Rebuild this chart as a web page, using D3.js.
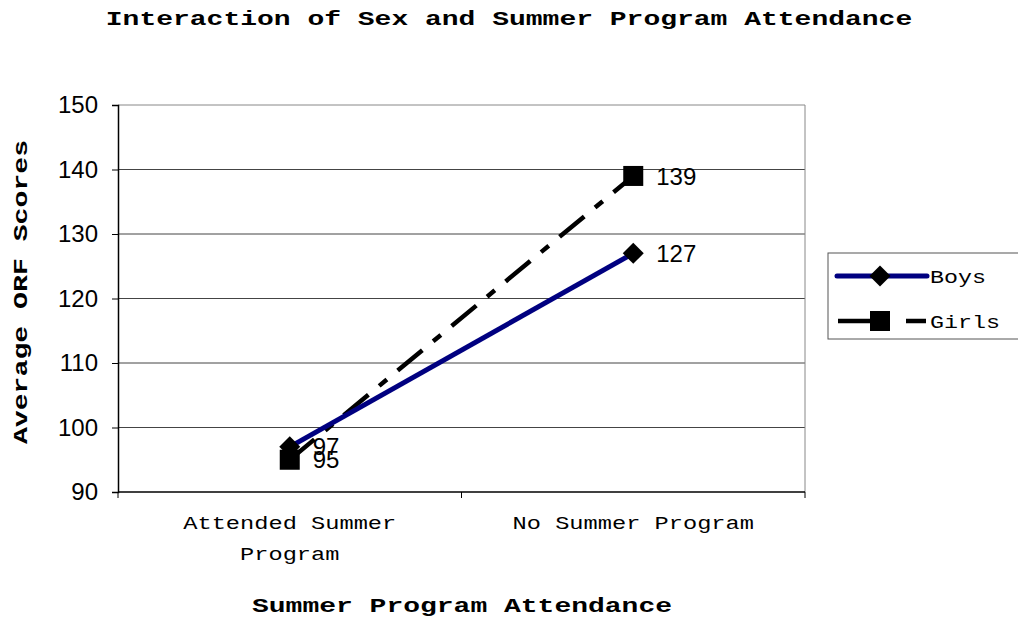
<!DOCTYPE html>
<html>
<head>
<meta charset="utf-8">
<script src="https://cdn.jsdelivr.net/npm/d3@7"></script>
<style>
  body { margin: 0; background: #fff; }
  svg { display: block; }
</style>
</head>
<body>
<div class="chart"></div>
<script>
// data
const categories = [["Attended Summer", "Program"], ["No Summer Program"]];
const boys = [97, 127];
const girls = [95, 139];
const yTicks = [90, 100, 110, 120, 130, 140, 150];

const width = 1018;
const height = 620;
const margin = {top: 105, bottom: 128, left: 118, right: 213};
const innerWidth = width - margin.left - margin.right;
const innerHeight = height - margin.top - margin.bottom;

const mono = "'Liberation Mono', 'Courier New', monospace";
const sans = "'Liberation Sans', Arial, sans-serif";

// courier in the picture is wider than the mono font we have, so stretch it
const stretchText = (sel, perChar) => sel
    .attr("textLength", function() { return this.textContent.length * perChar; })
    .attr("lengthAdjust", "spacingAndGlyphs");

const svg = d3.select(".chart")
    .append("svg")
    .attr("width", width)
    .attr("height", height);

const innerChart = svg.append("g")
    .attr("transform", `translate(${margin.left}, ${margin.top})`);

const xScale = d3.scaleBand()
    .domain(d3.range(categories.length))
    .range([0, innerWidth]);

const yScale = d3.scaleLinear()
    .domain([90, 150])
    .range([innerHeight, 0]);

const xPos = i => xScale(i) + xScale.bandwidth() / 2;

// gridlines
innerChart.append("g")
    .selectAll("line")
    .data(yTicks.slice(1))
    .join("line")
    .attr("x1", 0)
    .attr("x2", innerWidth)
    .attr("y1", d => yScale(d))
    .attr("y2", d => yScale(d))
    .attr("stroke", d => d === 150 ? "#888" : "#444")
    .attr("stroke-width", 1);

// right border
innerChart.append("line")
    .attr("x1", innerWidth).attr("x2", innerWidth)
    .attr("y1", 0).attr("y2", innerHeight)
    .attr("stroke", "#888");

// y axis
const yAxis = d3.axisLeft(yScale).tickValues(yTicks).tickSize(6).tickPadding(14);
innerChart.append("g")
    .attr("class", "y-axis")
    .call(yAxis)
    .call(g => g.select(".domain").attr("stroke", "#000").attr("stroke-width", 1.5))
    .call(g => g.selectAll(".tick line").attr("stroke", "#000"))
    .call(g => g.selectAll("text")
        .attr("font-family", sans)
        .attr("font-size", 24)
        .attr("fill", "#000"));

// x axis
const xTickPos = [0, innerWidth / 2, innerWidth];
innerChart.append("line")
    .attr("x1", 0).attr("x2", innerWidth)
    .attr("y1", innerHeight).attr("y2", innerHeight)
    .attr("stroke", "#000").attr("stroke-width", 1.5);
innerChart.append("g")
    .selectAll("line")
    .data(xTickPos)
    .join("line")
    .attr("x1", d => d).attr("x2", d => d)
    .attr("y1", innerHeight).attr("y2", innerHeight + 6)
    .attr("stroke", "#000");

categories.forEach((lines, i) => {
    lines.forEach((line, j) => {
        innerChart.append("text")
            .attr("x", xPos(i))
            .attr("y", innerHeight + 37 + j * 31)
            .attr("text-anchor", "middle")
            .attr("font-family", mono)
            .attr("font-size", 19)
            .attr("fill", "#000")
            .text(line)
            .call(stretchText, 14.2);
    });
});

// series lines
const line = d3.line()
    .x((d, i) => xPos(i))
    .y(d => yScale(d));

innerChart.append("path")
    .attr("d", line(girls))
    .attr("fill", "none")
    .attr("stroke", "#000")
    .attr("stroke-width", 4.5)
    .attr("stroke-dasharray", "32,14,10,14");

innerChart.append("path")
    .attr("d", line(boys))
    .attr("fill", "none")
    .attr("stroke", "#000080")
    .attr("stroke-width", 5);

// markers
const diamond = d3.symbol().type(d3.symbolSquare).size(220);
innerChart.selectAll(".boys-marker")
    .data(boys)
    .join("path")
    .attr("class", "boys-marker")
    .attr("d", diamond)
    .attr("transform", (d, i) => `translate(${xPos(i)}, ${yScale(d)}) rotate(45)`)
    .attr("fill", "#000");

innerChart.selectAll(".girls-marker")
    .data(girls)
    .join("rect")
    .attr("class", "girls-marker")
    .attr("x", (d, i) => xPos(i) - 10)
    .attr("y", d => yScale(d) - 10)
    .attr("width", 20)
    .attr("height", 20)
    .attr("fill", "#000");

// data labels
const labels = boys.map((d, i) => ({v: d, i}))
    .concat(girls.map((d, i) => ({v: d, i})));
innerChart.selectAll(".value-label")
    .data(labels)
    .join("text")
    .attr("class", "value-label")
    .attr("x", d => xPos(d.i) + 23)
    .attr("y", d => yScale(d.v))
    .attr("dy", "0.36em")
    .attr("font-family", sans)
    .attr("font-size", 24)
    .attr("fill", "#000")
    .text(d => d.v);

// title
svg.append("text")
    .attr("x", 509)
    .attr("y", 25)
    .attr("text-anchor", "middle")
    .attr("font-family", mono)
    .attr("font-weight", "bold")
    .attr("font-size", 20)
    .text("Interaction of Sex and Summer Program Attendance")
    .call(stretchText, 16.8);

// axis titles
svg.append("text")
    .attr("x", 462)
    .attr("y", 612)
    .attr("text-anchor", "middle")
    .attr("font-family", mono)
    .attr("font-weight", "bold")
    .attr("font-size", 20)
    .text("Summer Program Attendance")
    .call(stretchText, 16.8);

svg.append("text")
    .attr("transform", "translate(27, 292) rotate(-90)")
    .attr("text-anchor", "middle")
    .attr("font-family", mono)
    .attr("font-weight", "bold")
    .attr("font-size", 20)
    .text("Average ORF Scores")
    .call(stretchText, 16.9);

// legend
const key = svg.append("g")
    .attr("transform", "translate(828, 253)");

key.append("rect")
    .attr("x", 0).attr("y", 0)
    .attr("width", 200).attr("height", 86)
    .attr("fill", "#fff")
    .attr("stroke", "#555")
    .attr("stroke-width", 1);

key.append("line")
    .attr("x1", 9).attr("x2", 99)
    .attr("y1", 23).attr("y2", 23)
    .attr("stroke", "#000080")
    .attr("stroke-width", 5)
    .attr("stroke-linecap", "round");
key.append("path")
    .attr("d", diamond)
    .attr("transform", "translate(52, 23) rotate(45)")
    .attr("fill", "#000");

key.append("line")
    .attr("x1", 10).attr("x2", 99)
    .attr("y1", 68).attr("y2", 68)
    .attr("stroke", "#000")
    .attr("stroke-width", 4.5)
    .attr("stroke-dasharray", "50,18,20");
key.append("rect")
    .attr("x", 42).attr("y", 58)
    .attr("width", 20).attr("height", 20)
    .attr("fill", "#000");

key.selectAll(".key-label")
    .data(["Boys", "Girls"])
    .join("text")
    .attr("class", "key-label")
    .attr("x", 102)
    .attr("y", (d, i) => 23 + i * 45)
    .attr("dy", "0.35em")
    .attr("font-family", mono)
    .attr("font-size", 19)
    .text(d => d)
    .call(stretchText, 14);
</script>
</body>
</html>
